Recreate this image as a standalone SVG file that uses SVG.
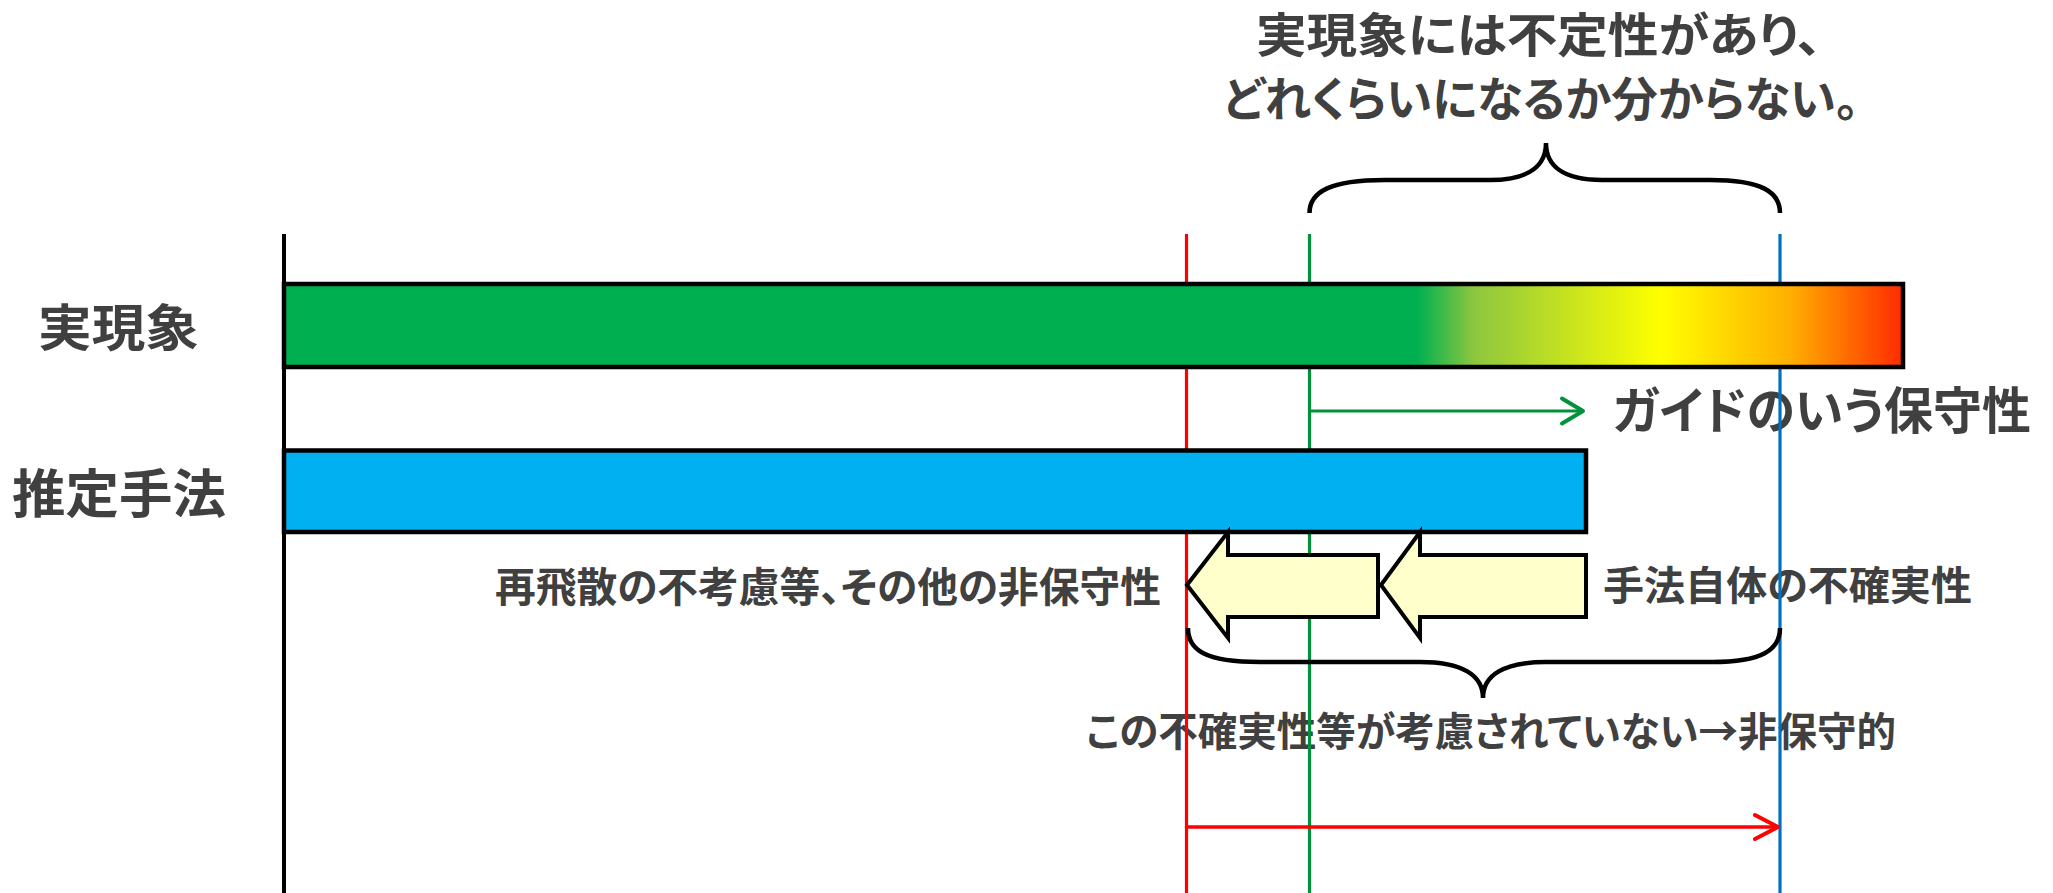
<svg xmlns="http://www.w3.org/2000/svg" width="2053" height="893" viewBox="0 0 2053 893">
<style>
text{font-family:"Noto Sans CJK JP","Noto Sans",sans-serif;font-weight:bold;fill:#404040;font-feature-settings:"palt";}
.bar{stroke:#000;stroke-width:4.5;}
.blk{fill:#FFFFCC;stroke:#000;stroke-width:4;stroke-linejoin:miter;}
.brace{fill:none;stroke:#000;stroke-width:4.5;}
.vl{stroke-width:3.2;fill:none;}
</style>
<defs>
<linearGradient id="realGrad" x1="0" y1="0" x2="1" y2="0">
<stop offset="0" stop-color="#00B050"/>
<stop offset="0.70" stop-color="#00B050"/>
<stop offset="0.735" stop-color="#8DC63F"/>
<stop offset="0.85" stop-color="#FFFF00"/>
<stop offset="0.93" stop-color="#FFB000"/>
<stop offset="1" stop-color="#FF2A00"/>
</linearGradient>
</defs>
<rect width="2053" height="893" fill="#fff"/>

<g id="labels">
<text id="t-title1" x="1256" y="52" font-size="47" textLength="566" lengthAdjust="spacingAndGlyphs">実現象には不定性があり、</text>
<text id="t-title2" x="1223" y="116" font-size="47" textLength="636" lengthAdjust="spacingAndGlyphs">どれくらいになるか分からない。</text>
<text id="t-real" x="38" y="346" font-size="50" textLength="161" lengthAdjust="spacingAndGlyphs">実現象</text>
<text id="t-method" x="12" y="513" font-size="52" textLength="214" lengthAdjust="spacingAndGlyphs">推定手法</text>
<text id="t-guide" x="1613" y="429" font-size="50" textLength="418" lengthAdjust="spacingAndGlyphs">ガイドのいう保守性</text>
<text id="t-nonc" x="495" y="602" font-size="41" textLength="666" lengthAdjust="spacingAndGlyphs">再飛散の不考慮等、その他の非保守性</text>
<text id="t-unc" x="1603" y="600" font-size="40" textLength="369" lengthAdjust="spacingAndGlyphs">手法自体の不確実性</text>
<text id="t-concl" x="1086" y="746" font-size="40" textLength="810" lengthAdjust="spacingAndGlyphs">この不確実性等が考慮されていない→非保守的</text>
</g>

<g id="connectors">
<line class="vl" x1="1186.5" y1="234" x2="1186.5" y2="893" stroke="#FF0000"/>
<line class="vl" x1="1309.5" y1="234" x2="1309.5" y2="893" stroke="#00913A"/>
<line class="vl" x1="1780" y1="234" x2="1780" y2="893" stroke="#0070C0"/>
<line id="axis" x1="284" y1="234" x2="284" y2="893" stroke="#000" stroke-width="4"/>
<g id="guide-arrow" stroke="#00913A" fill="none" stroke-linecap="round" stroke-linejoin="round">
<line x1="1309.5" y1="411" x2="1581" y2="411" stroke-width="3.2"/>
<polyline points="1562,398.5 1583,411 1562,423.5" stroke-width="4"/>
</g>
<g id="red-arrow" stroke="#FF0000" fill="none" stroke-linecap="round" stroke-linejoin="round">
<line x1="1186.5" y1="827" x2="1776" y2="827" stroke-width="3.6"/>
<polyline points="1755,815 1778,827 1755,839" stroke-width="4"/>
</g>
</g>

<g id="node-real">
<rect class="bar" x="284" y="284" width="1619" height="83" fill="url(#realGrad)"/>
</g>
<g id="node-method">
<rect class="bar" x="284" y="450.5" width="1302" height="81.5" fill="#00B0F0"/>
</g>

<g id="node-arrow1">
<polygon class="blk" points="1187,585 1228,532 1228,555 1378,555 1378,617 1228,617 1228,638"/>
</g>
<g id="node-arrow2">
<polygon class="blk" points="1381,585 1420,532 1420,555 1586,555 1586,617 1420,617 1420,638"/>
</g>

<g id="brace-top">
<path class="brace" d="M1309.5,213 C1309.5,192 1330,180 1385,180 L1490,180 C1530,180 1546,165 1546,143 C1546,165 1562,180 1602,180 L1710,180 C1762,180 1780,192 1780,213"/>
</g>
<g id="brace-bottom">
<path class="brace" d="M1188,628 C1188,650 1205,662 1260,662 L1420,662 C1462,662 1483,675 1483,698 C1483,675 1504,662 1546,662 L1712,662 C1762,662 1780,650 1780,628"/>
</g>
</svg>
